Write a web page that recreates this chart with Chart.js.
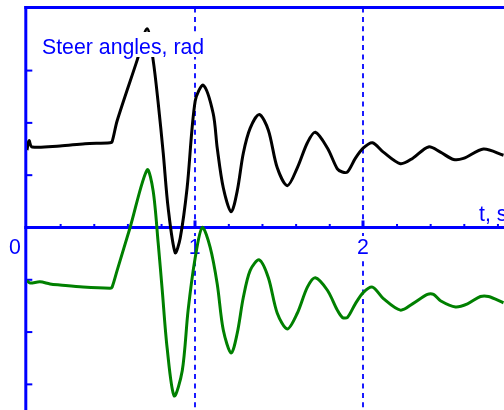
<!DOCTYPE html>
<html>
<head>
<meta charset="utf-8">
<script src="https://cdn.jsdelivr.net/npm/chart.js@4/dist/chart.umd.min.js"></script>
<style>
  html,body{margin:0;padding:0;background:#fff;}
  canvas{display:block;}
</style>
</head>
<body>
<canvas id="c" width="504" height="410"></canvas>
<script>
// Steer angles (rad) against time (s): upper curve black, lower curve green.
const tBlack = [0.000,0.012,0.030,0.196,0.345,0.494,0.506,0.536,0.655,0.714,0.750,0.780,0.810,0.839,0.881,0.911,0.952,1.000,1.048,1.107,1.131,1.167,1.214,1.250,1.286,1.327,1.381,1.435,1.488,1.548,1.607,1.667,1.714,1.786,1.845,1.875,1.905,1.952,2.000,2.054,2.119,2.220,2.292,2.387,2.458,2.536,2.595,2.714,2.833];
const vBlack = [0.074,0.083,0.077,0.078,0.080,0.081,0.082,0.102,0.160,0.190,0.160,0.119,0.071,0.019,-0.024,-0.010,0.038,0.121,0.136,0.109,0.076,0.038,0.015,0.035,0.071,0.095,0.108,0.093,0.057,0.040,0.057,0.081,0.091,0.076,0.056,0.053,0.053,0.066,0.076,0.081,0.072,0.061,0.066,0.077,0.072,0.065,0.066,0.075,0.069];

const tGreen = [0.000,0.018,0.077,0.137,0.196,0.333,0.494,0.506,0.536,0.613,0.714,0.750,0.780,0.804,0.833,0.875,0.923,0.958,1.000,1.042,1.089,1.131,1.167,1.214,1.250,1.286,1.327,1.381,1.435,1.488,1.548,1.607,1.667,1.714,1.786,1.845,1.875,1.905,1.952,2.000,2.054,2.119,2.220,2.292,2.381,2.417,2.458,2.548,2.619,2.696,2.744,2.833];
const vGreen = [-0.051,-0.053,-0.052,-0.054,-0.055,-0.057,-0.058,-0.057,-0.041,0.000,0.055,0.035,-0.015,-0.060,-0.115,-0.161,-0.137,-0.079,-0.029,0.000,-0.019,-0.054,-0.098,-0.120,-0.101,-0.067,-0.041,-0.031,-0.048,-0.082,-0.097,-0.082,-0.057,-0.048,-0.060,-0.079,-0.086,-0.086,-0.073,-0.062,-0.057,-0.068,-0.079,-0.073,-0.064,-0.064,-0.070,-0.076,-0.073,-0.066,-0.066,-0.072];

const xMajor = [0,1,2];
const xLabels = ["0","1","2"];
const xMinor = [0.2,0.4,0.6,0.8,1.2,1.4,1.6,1.8,2.2,2.4,2.6,2.8];
const yTicks = [-0.15,-0.10,-0.05,0.05,0.10,0.15];
const title = "Steer angles, rad";
const xTitle = "t, s";

const BLUE = "#0000ff";
const FONT = "21.3px 'Liberation Sans', Arial, sans-serif";

function pts(t,v){return t.map((x,i)=>({x:x,y:v[i]}));}

const axes = {
  id:"axes",
  beforeDatasetsDraw(ch){
    const c=ch.ctx,a=ch.chartArea,X=ch.scales.x,Y=ch.scales.y;
    const x0=X.getPixelForValue(0)-1.2, y0=Y.getPixelForValue(0);
    c.save();
    // dashed verticals at whole seconds
    c.strokeStyle="#1a1aff";c.lineWidth=2;c.setLineDash([5,4.4]);
    [1,2].forEach(t=>{const px=Math.round(X.getPixelForValue(t));c.beginPath();c.moveTo(px,a.top);c.lineTo(px,a.bottom);c.stroke();});
    c.setLineDash([]);
    c.strokeStyle=BLUE;c.lineWidth=3;
    c.beginPath();c.moveTo(x0-1.5,y0);c.lineTo(a.right,y0);c.stroke();
    c.beginPath();c.moveTo(x0,a.top-1.5);c.lineTo(x0,a.bottom);c.stroke();
    c.fillStyle=BLUE;
    yTicks.forEach(v=>{const py=Y.getPixelForValue(v);c.fillRect(x0,py-1,6.5,2);});
    xMinor.forEach(t=>{const px=X.getPixelForValue(t);c.fillRect(px-1,y0-3.5,2,2);});
    xMajor.slice(1).forEach(t=>{const px=Math.round(X.getPixelForValue(t));c.fillRect(px-1.5,y0-7,3,7);});
    // labels under the axis sit on white
    c.font=FONT;c.textAlign="center";c.textBaseline="alphabetic";
    xMajor.forEach((t,i)=>{
      const px=i===0?15:X.getPixelForValue(t)-0.5;
      c.fillStyle="#fff";c.fillRect(px-7,236,14,21);
      c.fillStyle=BLUE;c.fillText(xLabels[i],px,254);
    });
    c.restore();
  },
  afterDatasetsDraw(ch){
    const c=ch.ctx,a=ch.chartArea,X=ch.scales.x;
    const x0=X.getPixelForValue(0)-1.2;
    c.save();
    c.strokeStyle=BLUE;c.lineWidth=3;
    c.beginPath();c.moveTo(x0-1.5,a.top);c.lineTo(a.right,a.top);c.stroke();
    c.font=FONT;
    const w=c.measureText(title).width;
    c.fillStyle="#fff";c.fillRect(40,32,w+5,25);
    c.fillStyle=BLUE;c.textBaseline="alphabetic";
    c.textAlign="left";c.fillText(title,42,53.5);
    c.fillText(xTitle,479,221);
    c.restore();
  }
};

new Chart(document.getElementById("c"),{
  type:"line",
  data:{datasets:[
    {data:pts(tBlack,vBlack),borderColor:"#000",borderWidth:3,pointRadius:0,tension:0.3},
    {data:pts(tGreen,vGreen),borderColor:"#008000",borderWidth:3,pointRadius:0,tension:0.3}
  ]},
  options:{
    responsive:false,animation:false,
    layout:{padding:{left:27,top:7.5,right:0,bottom:0}},
    plugins:{legend:{display:false},tooltip:{enabled:false}},
    scales:{
      x:{type:"linear",min:0,max:2.836,display:false},
      y:{min:-0.1745,max:0.2103,display:false}
    }
  },
  plugins:[axes]
});
</script>
</body>
</html>
